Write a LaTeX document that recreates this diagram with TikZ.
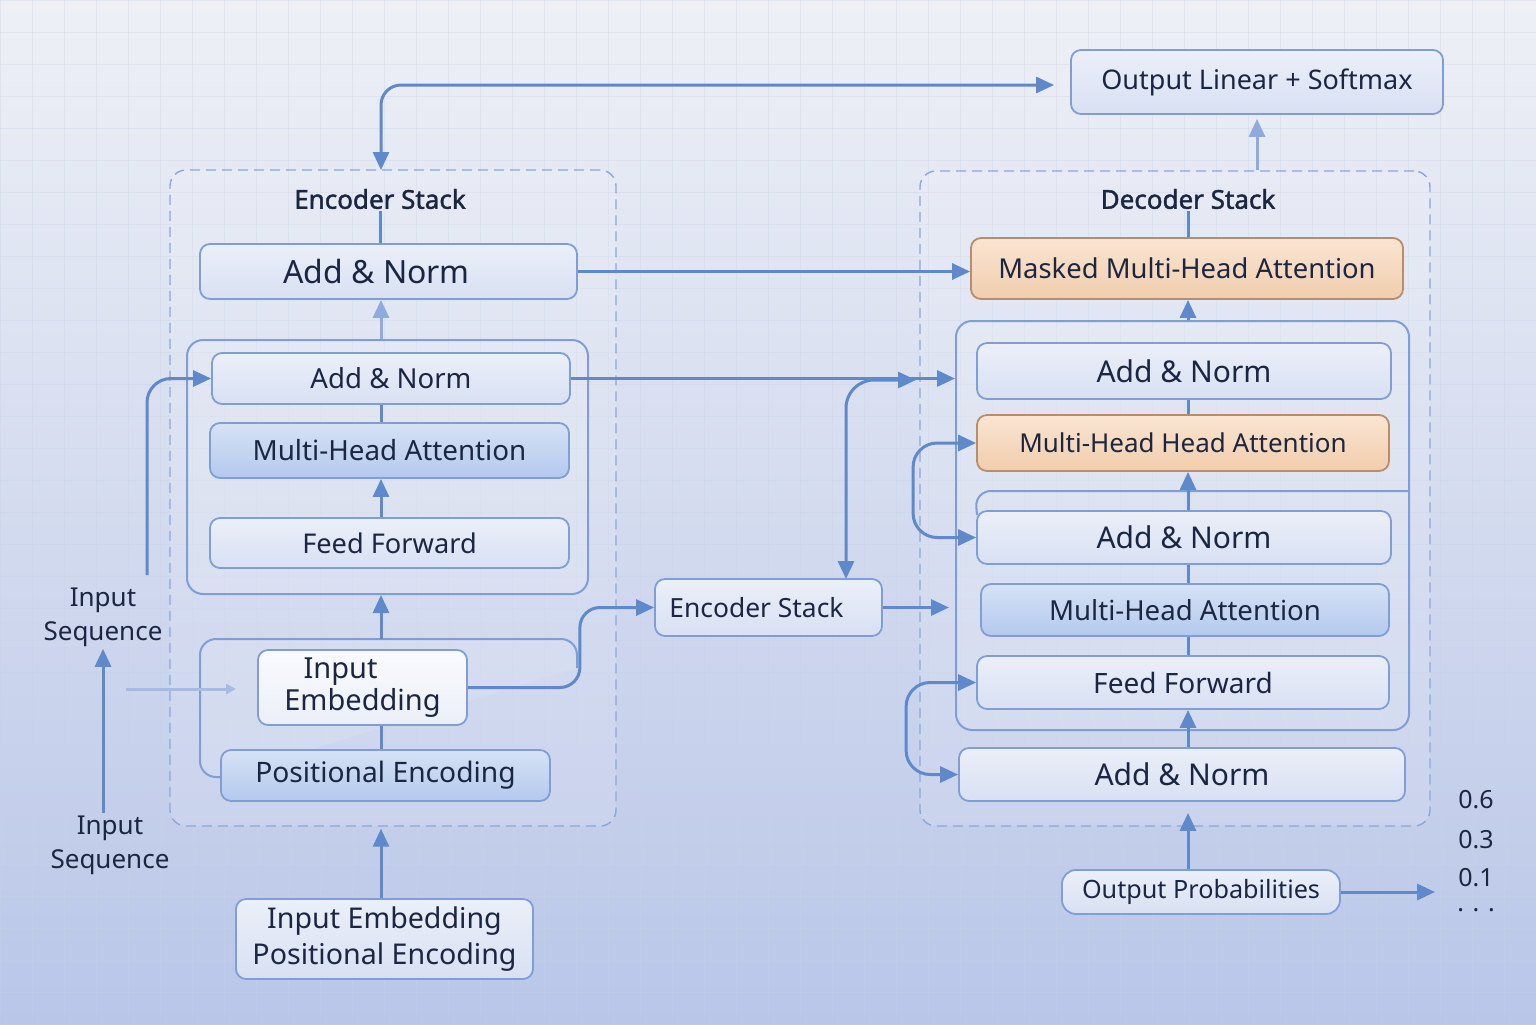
\documentclass[tikz,border=0pt]{standalone}
\usepackage{fontspec}
\setmainfont{Noto Sans}
\newfontfamily\ttlfont[FakeBold=1.6]{Noto Sans}
\usetikzlibrary{arrows.meta,calc}
\definecolor{bgtop}{HTML}{EEF0F6}
\definecolor{bgbot}{HTML}{B9C6E8}
\definecolor{gridc}{HTML}{C9D1E6}
\definecolor{linec}{HTML}{5E89CB}
\definecolor{linel}{HTML}{8FAADC}
\definecolor{boxb}{HTML}{7F9ED6}
\definecolor{txt}{HTML}{1B2742}
\definecolor{boxfa}{HTML}{EBEFF8}
\definecolor{boxfb}{HTML}{D8E0F3}
\definecolor{blua}{HTML}{D6E2F5}
\definecolor{blub}{HTML}{B3C9EE}
\definecolor{ora}{HTML}{FAE5D3}
\definecolor{orb}{HTML}{F1CDAC}
\definecolor{orbd}{HTML}{B98D6C}
\definecolor{dashc}{HTML}{8CA6DA}
\newcommand{\fsz}[1]{\fontsize{#1}{18}\selectfont}
\begin{document}
\begin{tikzpicture}[x=0.5pt,y=-0.5pt,
  wh/.style 2 args={minimum width={#1*0.5pt}, minimum height={#2*0.5pt}},
  box/.style={draw=boxb, line width=0.9pt, rounded corners=5pt, top color=boxfa, bottom color=boxfb, text=txt, align=center, inner sep=0pt},
  bluebox/.style={box, top color=blua, bottom color=blub},
  orbox/.style={box, draw=orbd, top color=ora, bottom color=orb},
  lbox/.style={box, top color=white!70!boxfa, bottom color=boxfa},
  dashbox/.style={draw=dashc, dash pattern=on 5pt off 3pt, line width=0.7pt, rounded corners=8pt, fill=white, fill opacity=0.12, inner sep=0pt},
  contbox/.style={draw=boxb, line width=1pt, rounded corners=8pt, fill=white, fill opacity=0.12, inner sep=0pt},
  ttl/.style={text=txt, font=\ttlfont\fsz{13}\bfseries, inner sep=1pt},
  lbl/.style={text=txt, align=center, font=\fontsize{13}{17}\selectfont, inner sep=1pt},
  plain/.style={draw=linec, line width=1.5pt},
  conn/.style={plain, -{Triangle[length=9pt,width=8pt]}},
  connl/.style={draw=linel, line width=1.5pt, -{Triangle[length=9pt,width=8pt]}},
  both/.style={plain, {Triangle[length=9pt,width=8pt]}-{Triangle[length=9pt,width=8pt]}}
]
\shade[top color=bgtop, bottom color=bgbot] (0,0) rectangle (1536,1024);
\useasboundingbox (0,0) rectangle (1536,1024);
\foreach \g in {0,32,...,1536} \draw[gridc, line width=0.3pt, opacity=0.35] (\g,0) -- (\g,1024);
\foreach \g in {0,32,...,1024} \draw[gridc, line width=0.3pt, opacity=0.35] (0,\g) -- (1536,\g);

% containers
\node[dashbox, wh={446}{656}] (encC) at (393,498) {};
\node[dashbox, wh={510}{655}] (decC) at (1175,498.5) {};
\node[contbox, wh={401}{254}] (encInner) at (387.5,467) {};
\node[contbox, wh={453}{409}] (decInner) at (1182.5,525.5) {};
\draw[draw=boxb, line width=1pt, rounded corners=8pt] (977,515) -- (975,491) -- (1408,491);
\draw[draw=boxb, line width=1pt, rounded corners=8pt, fill=white, fill opacity=0.1] (221,777) -- (200,777) -- (200,639) -- (577,639) -- (577,668);

% encoder
\node[ttl] (encTitle) at (380,199) {Encoder Stack};
\node[box, wh={377}{55}, font=\fsz{16}] (encT) at (388.5,271.5) {Add \& Norm\hspace{12pt}};
\node[box, wh={358}{51}, font=\fsz{13.8}] (encAN) at (391,378.5) {Add \& Norm};
\node[bluebox, wh={359}{55}, font=\fsz{13.9}] (encMHA) at (389.5,450.5) {Multi-Head Attention};
\node[box, wh={359}{50}, font=\fsz{13.6}] (encFF) at (389.5,543) {Feed Forward};
\node[lbox, wh={209}{75}, font=\fontsize{14.5}{16}\selectfont] (inEmb) at (362.5,687.5) {\hspace*{-22pt}Input\\Embedding};
\node[bluebox, wh={329}{51}, font=\fsz{14.1}] (PE) at (385.5,775.5) {Positional Encoding};
\node[box, wh={297}{80}, font=\fontsize{14.3}{18}\selectfont] (botIn) at (384.5,939) {Input Embedding\\Positional Encoding};
\node[box, wh={227}{57}, font=\fsz{13.2}] (encStk) at (768.5,607.5) {Encoder Stack\hspace{12pt}};
\node[lbl] (inSeq1) at (103,617) {Input\\Sequence};
\node[lbl] (inSeq2) at (110,845) {Input\\Sequence};

% decoder
\node[ttl] (decTitle) at (1188,199) {Decoder Stack};
\node[box, wh={372}{64}, font=\fsz{13.5}] (outLin) at (1257,82) {Output Linear + Softmax};
\node[orbox, wh={432}{61}, font=\fsz{13.7}] (MMHA) at (1187,268.5) {Masked Multi-Head Attention};
\node[box, wh={414}{56}, font=\fsz{15}] (dAN1) at (1184,371) {Add \& Norm};
\node[orbox, wh={412}{56}, font=\fsz{13}] (dMHHA) at (1183,443) {Multi-Head Head Attention};
\node[box, wh={414}{53}, font=\fsz{15}] (dAN2) at (1184,537.5) {Add \& Norm};
\node[bluebox, wh={408}{52}, font=\fsz{13.8}] (dMHA) at (1185,610) {Multi-Head Attention};
\node[box, wh={412}{53}, font=\fsz{14}] (dFF) at (1183,682.5) {Feed Forward};
\node[box, wh={446}{53}, font=\fsz{15}] (dAN3) at (1182,774.5) {Add \& Norm};
\node[box, wh={278}{44}, font=\fsz{12.6}, rounded corners=7pt] (outProb) at (1201,892) {Output Probabilities};
\node[lbl, font=\fsz{12.5}] (v1) at (1476,800) {0.6};
\node[lbl, font=\fsz{12.5}] (v2) at (1476,840) {0.3};
\node[lbl, font=\fsz{12.5}] (v3) at (1476,878) {0.1};
\node[lbl, font=\fsz{12.5}] (v4) at (1476,910) {. . .};

% coordinates
\coordinate (encTop) at (381,170);
\coordinate (in1) at (147,575);
\coordinate (fa) at (126,689);
\coordinate (fb) at (236,689);
\coordinate (join) at (916,380);
\coordinate (eS) at (846,579);

% encoder connectors
\draw[both, rounded corners=10pt] (encTop) |- ($(outLin.west)+(-16,3)$);
\draw[plain] (encTitle.south) -- (encTitle.south |- encT.north);
\draw[conn] (encT.east) -- (encT.east -| MMHA.west);
\draw[connl] (encTop |- encInner.north) -- (encTop |- encT.south);
\draw[plain] (encTop |- encAN.south) -- (encTop |- encMHA.north);
\draw[conn] (encTop |- encFF.north) -- (encTop |- encMHA.south);
\draw[conn] (381,639) -- (encTop |- encInner.south);
\draw[plain] (encTop |- inEmb.south) -- (encTop |- PE.north);
\draw[conn, shorten >=1pt] (encTop |- botIn.north) -- (encTop |- encC.south);
\draw[conn, rounded corners=12pt] (in1) |- (encAN.west);
\draw[conn] (inSeq2.north -| inSeq1) -- (inSeq1.south);
\draw[draw=linel!80!white, line width=1.5pt, -{Triangle[length=5pt,width=5pt]}] (fa) -- (fb);
\draw[conn, rounded corners=10pt] (inEmb.east) -- ++(112,0) |- (encStk.west);
\draw[conn] (encAN.east) -- (encAN.east -| decInner.west);
\draw[both, rounded corners=14pt] (eS) |- (join);
\draw[conn, shorten >=3pt] (encStk.east) -- (encStk.east -| decInner.west);

% decoder connectors
\draw[plain] (decTitle.south) -- (decTitle.south |- MMHA.north);
\draw[conn] (decTitle |- decInner.north) -- (decTitle |- MMHA.south);
\draw[plain] (decTitle |- dAN1.south) -- (decTitle |- dMHHA.north);
\draw[conn] (decTitle |- dAN2.north) -- (decTitle |- dMHHA.south);
\draw[plain] (decTitle |- dAN2.south) -- (decTitle |- dMHA.north);
\draw[plain] (decTitle |- dMHA.south) -- (decTitle |- dFF.north);
\draw[conn] (decTitle |- dAN3.north) -- (decTitle |- dFF.south);
\draw[conn, shorten >=5.5pt] (decTitle |- outProb.north) -- (decTitle |- dAN3.south);
\draw[conn] (outProb.east) -- (1435,892);
\draw[connl, shorten >=2pt] (outLin.south |- decC.north) -- (outLin.south);
\draw[both, rounded corners=12pt] (dMHHA.west) -- ++(-63,0) |- (dAN2.west);
\draw[both, rounded corners=12pt] (dFF.west) -- ++(-70,0) |- (dAN3.west);
\end{tikzpicture}
\end{document}
